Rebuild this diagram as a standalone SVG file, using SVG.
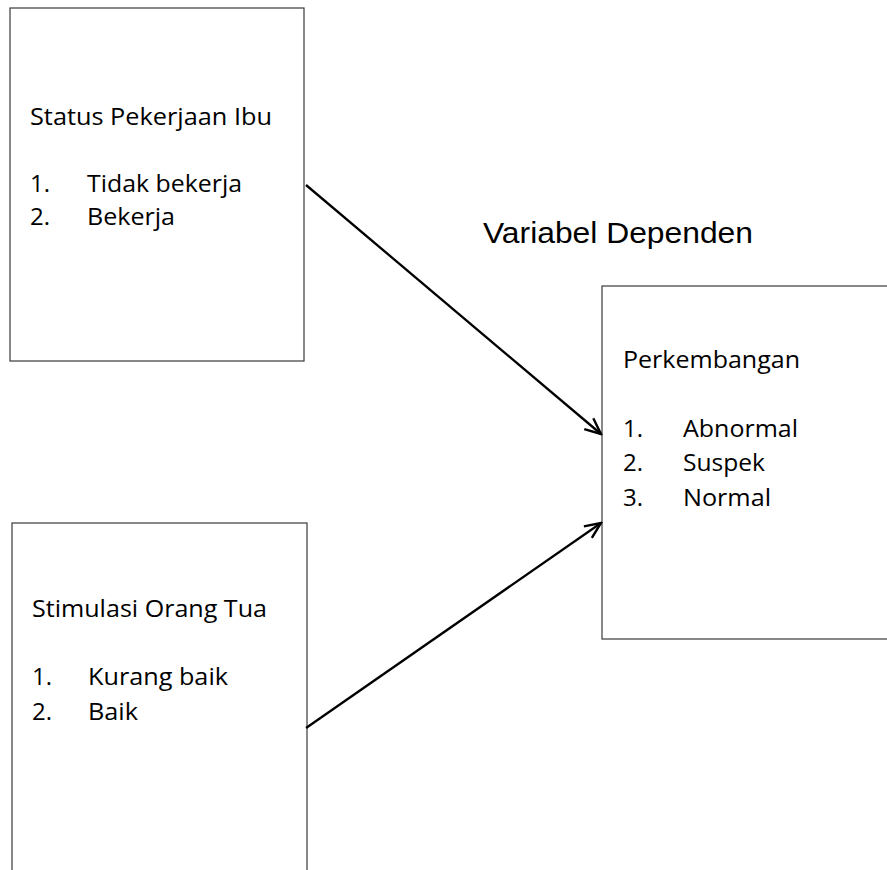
<svg xmlns="http://www.w3.org/2000/svg" width="887" height="870" viewBox="0 0 887 870">
<style>
.box{fill:#fff;stroke:#3a3a3a;stroke-width:1.2}
.t{font-family:"Open Sans","Noto Sans",sans-serif;font-size:24px;fill:#000}
.h{font-family:"Liberation Sans",Arial,sans-serif;font-size:29px;fill:#000}
.c{stroke:#000;stroke-width:2.3;fill:none}
</style>
<defs>
<marker id="arr" viewBox="0 0 20 20" refX="18" refY="10" markerWidth="20" markerHeight="20" markerUnits="userSpaceOnUse" orient="auto">
<path d="M2,3 L18,10 L2,17" fill="none" stroke="#000" stroke-width="2.4"/>
</marker>
</defs>
<rect width="887" height="870" fill="#fff"/>
<g id="node-status">
<rect class="box" x="10" y="8" width="294" height="353"/>
<text class="t" x="30" y="125" textLength="242" lengthAdjust="spacingAndGlyphs">Status Pekerjaan Ibu</text>
<text class="t" x="30" y="192">1.</text>
<text class="t" x="87" y="192" textLength="155" lengthAdjust="spacingAndGlyphs">Tidak bekerja</text>
<text class="t" x="30" y="225">2.</text>
<text class="t" x="87" y="225" textLength="88" lengthAdjust="spacingAndGlyphs">Bekerja</text>
</g>
<g id="node-stimulasi">
<rect class="box" x="12" y="523" width="295" height="360"/>
<text class="t" x="32" y="617" textLength="235" lengthAdjust="spacingAndGlyphs">Stimulasi Orang Tua</text>
<text class="t" x="32" y="685">1.</text>
<text class="t" x="88" y="685" textLength="140" lengthAdjust="spacingAndGlyphs">Kurang baik</text>
<text class="t" x="32" y="720">2.</text>
<text class="t" x="88" y="720" textLength="50" lengthAdjust="spacingAndGlyphs">Baik</text>
</g>
<g id="node-perkembangan">
<rect class="box" x="602" y="286" width="300" height="353"/>
<text class="t" x="623" y="368" textLength="177" lengthAdjust="spacingAndGlyphs">Perkembangan</text>
<text class="t" x="623" y="437">1.</text>
<text class="t" x="683" y="437" textLength="115" lengthAdjust="spacingAndGlyphs">Abnormal</text>
<text class="t" x="623" y="471">2.</text>
<text class="t" x="683" y="471" textLength="82" lengthAdjust="spacingAndGlyphs">Suspek</text>
<text class="t" x="623" y="506">3.</text>
<text class="t" x="683" y="506" textLength="88" lengthAdjust="spacingAndGlyphs">Normal</text>
</g>
<g id="label-dependen">
<text class="h" x="483" y="243" textLength="270" lengthAdjust="spacingAndGlyphs">Variabel Dependen</text>
</g>
<g id="connectors">
<line class="c" x1="306" y1="185" x2="601" y2="434" marker-end="url(#arr)"/>
<line class="c" x1="306" y1="728" x2="601" y2="523" marker-end="url(#arr)"/>
</g>
</svg>
